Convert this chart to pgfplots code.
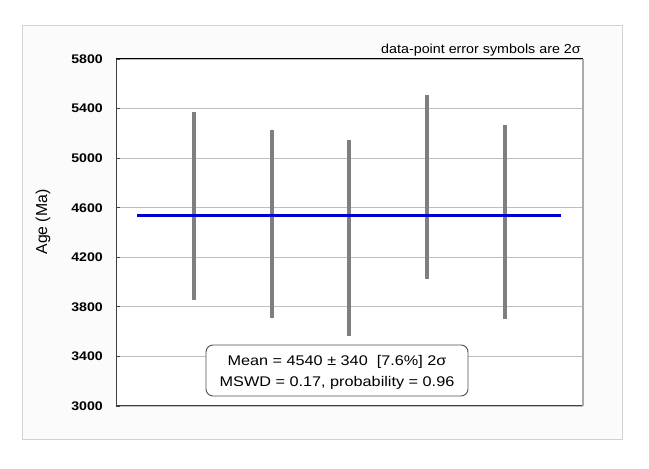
\documentclass[border=0pt]{standalone}
\usepackage{pgfplots}
\pgfplotsset{compat=1.18}
\usepackage{graphicx}
\usepackage{fontspec}
\setmainfont{Liberation Sans}
\definecolor{framegray}{HTML}{D2D2D2}
\definecolor{gridgray}{HTML}{BEBEBE}
\definecolor{bargray}{HTML}{7F7F7F}
\definecolor{meanblue}{HTML}{0000D0}
\definecolor{axisdark}{HTML}{404040}
\begin{document}
\begin{tikzpicture}[x=1pt,y=1pt]
\useasboundingbox (0,0) rectangle (649,469);
\fill[white] (0,0) rectangle (649,469);
\draw[framegray, fill={rgb,255:red,251;green,251;blue,251}, line width=1pt] (22,29) rectangle (622,443);
\begin{axis}[
  at={(116pt,63pt)}, anchor=south west,
  scale only axis, width=467pt, height=347pt,
  xmin=0, xmax=6, ymin=3000, ymax=5800,
  xtick=\empty,
  ytick={3000,3400,...,5800},
  ytick pos=left,
  major tick length=4pt,
  tick style={axisdark, line width=0.8pt},
  ymajorgrids,
  grid style={gridgray, line width=1.1pt},
  axis line style={draw=none},
  axis background/.style={fill=white},
  /pgf/number format/assume math mode=true,
  /pgf/number format/set thousands separator={},
  yticklabel style={inner sep=0pt, anchor=east, xshift=-13pt},
  yticklabel={\scalebox{1.13}[1]{\fontsize{12.5}{14}\selectfont\bfseries\pgfmathprintnumber{\tick}}},
  clip=false,
]
\draw[axisdark, line width=1pt] (rel axis cs:0,1) -- (rel axis cs:0,0) -- (rel axis cs:1,0);
\draw[black, line width=1pt] (rel axis cs:0,1) -- (rel axis cs:1,1);
\draw[gridgray!90!black, line width=1.2pt] (rel axis cs:1,0) -- (rel axis cs:1,1);
% error symbols (2 sigma)
\addplot[bargray, line width=4pt, line cap=butt] coordinates {(1,3853) (1,5371)};
\addplot[bargray, line width=4pt, line cap=butt] coordinates {(2,3707) (2,5229)};
\addplot[bargray, line width=4pt, line cap=butt] coordinates {(3,3567) (3,5145)};
\addplot[bargray, line width=4pt, line cap=butt] coordinates {(4,4025) (4,5506)};
\addplot[bargray, line width=4pt, line cap=butt] coordinates {(5,3702) (5,5269)};
% weighted mean
\addplot[meanblue, line width=3pt] coordinates {(0.27,4540) (5.72,4540)};
\end{axis}
\node[anchor=base east, inner sep=0pt] at (581,415) {\scalebox{1.1}[1]{\fontsize{13}{15}\selectfont data-point error symbols are 2σ}};
\node[rotate=90, inner sep=0pt] at (43,247) {\resizebox{65pt}{!}{\fontsize{16}{18}\selectfont Age (Ma)}};
\node[draw={rgb,255:red,80;green,80;blue,80}, fill=white, rounded corners=7pt, line width=0.9pt,
      minimum width=262pt, minimum height=51pt, inner sep=0pt] at (337,98.5) {};
\node[anchor=base, inner sep=0pt] at (337,103) {\scalebox{1.16}[1]{\fontsize{14}{16}\selectfont Mean = 4540 ± 340\ \ [7.6\%] 2σ}};
\node[anchor=base, inner sep=0pt] at (337,82) {\scalebox{1.16}[1]{\fontsize{14}{16}\selectfont MSWD = 0.17, probability = 0.96}};
\end{tikzpicture}
\end{document}
